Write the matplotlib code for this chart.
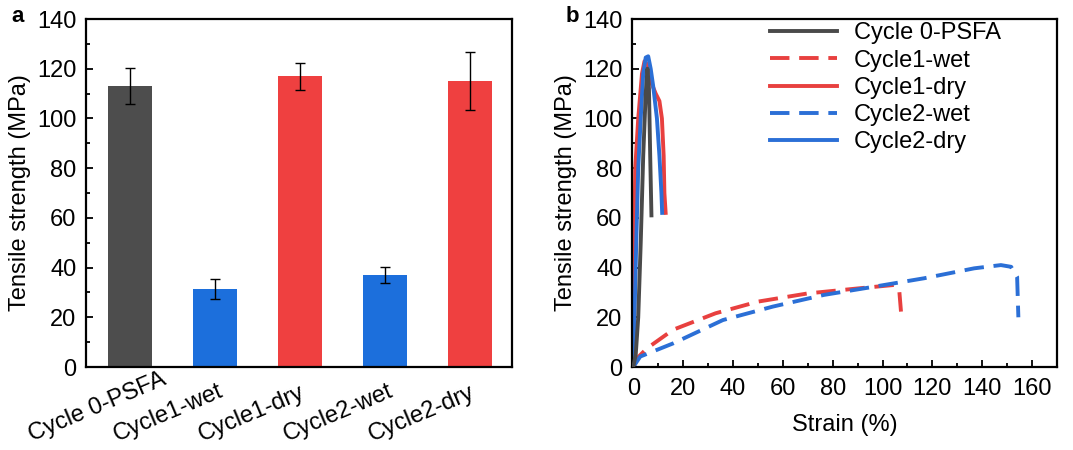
import numpy as np
import matplotlib
matplotlib.use("Agg")
import matplotlib.pyplot as plt
from matplotlib.ticker import MultipleLocator
from matplotlib.transforms import ScaledTranslation

# ---- data: panel a ----
samples = ["Cycle 0-PSFA", "Cycle1-wet", "Cycle1-dry", "Cycle2-wet", "Cycle2-dry"]
strength = [113, 31.5, 117, 37, 115]
strength_err = [7.3, 4.0, 5.5, 3.3, 11.8]

# ---- data: panel b (stress-strain curves) ----
c0_strain = [0, 1, 2, 3, 4, 5, 5.7, 6.3, 6.8, 7.3]
c0_stress = [0, 5, 20, 50, 85, 110, 120, 112, 85, 61]
c1dry_strain = [0, 0.3, 0.8, 2, 3.5, 4.5, 5.5, 7, 9, 10.5, 11.5, 12.2, 12.5, 13]
c1dry_stress = [0, 40, 80, 100, 118, 123, 122, 115, 110, 107, 100, 85, 70, 62]
c2dry_strain = [0, 0.5, 1.2, 2, 3, 4, 5, 6, 7, 8, 9.5, 10.5, 11.3, 11.6]
c2dry_stress = [0, 20, 50, 80, 100, 118, 124.5, 125, 120, 113, 100, 85, 70, 62]
c1wet_strain = [0, 2, 5.5, 16, 33, 50, 70, 90, 104.6, 106.7, 107.6]
c1wet_stress = [0, 4, 7.5, 15, 21.6, 26.3, 29.6, 31.6, 33, 31, 20]
c2wet_strain = [0, 2.8, 16, 36, 56, 76.5, 96.6, 116.7, 136.8, 147.5, 151.6, 154, 154.5]
c2wet_stress = [0, 4.2, 9.5, 18.9, 24.3, 29, 32.3, 35.7, 39.7, 41, 40.3, 36.3, 20]

GRAY, BLUE, RED = "#4d4d4d", "#1c6fdc", "#ef4040"
LGRAY, LBLUE, LRED = "#4a4a4a", "#2b6fd6", "#e8403f"

plt.rcParams.update({"font.family": ["Liberation Sans", "DejaVu Sans"],
                     "font.size": 17, "axes.linewidth": 1.6})

fig = plt.figure(figsize=(10.73, 4.5), dpi=100)

# ---- panel a ----
ax = fig.add_axes([86 / 1073, 83 / 450, 426 / 1073, 348 / 450])
x = np.arange(len(samples))
ax.bar(x, strength, width=0.52, color=[GRAY, BLUE, RED, BLUE, RED])
ax.errorbar(x, strength, yerr=strength_err, fmt="none", ecolor="black",
            elinewidth=1.0, capsize=3.6, capthick=1.0)
ax.set_xlim(-0.52, 4.5)
ax.set_ylim(0, 140)
ax.yaxis.set_major_locator(MultipleLocator(20))
ax.yaxis.set_minor_locator(MultipleLocator(10))
ax.tick_params(axis="y", which="both", direction="in", pad=7)
ax.tick_params(axis="y", which="major", length=5, width=1.3)
ax.tick_params(axis="y", which="minor", length=3, width=1.3)
ax.tick_params(axis="x", length=0, pad=6)
ax.set_xticks(x)
ax.set_xticklabels(samples, rotation=23, ha="left", va="bottom",
                   rotation_mode="anchor")
# labels sit left of their bar, rising to the right
off = ScaledTranslation(-96 / 100, -71 / 100, fig.dpi_scale_trans)
for lab in ax.get_xticklabels():
    lab.set_transform(lab.get_transform() + off)
ax.set_ylabel("Tensile strength (MPa)", labelpad=4)
fig.text(18 / 1073, 1 - 17 / 450, "a", fontsize=16, fontweight="bold",
         ha="center", va="center")

# ---- panel b ----
bx = fig.add_axes([632 / 1073, 83 / 450, 425 / 1073, 348 / 450])
lw = 2.8
dash = (0, (5, 2.5))
bx.plot(c0_strain, c0_stress, color=LGRAY, lw=lw, label="Cycle 0-PSFA", zorder=3)
bx.plot(c1wet_strain, c1wet_stress, color=LRED, lw=lw, ls=dash,
        label="Cycle1-wet")
bx.plot(c1dry_strain, c1dry_stress, color=LRED, lw=lw, label="Cycle1-dry")
bx.plot(c2wet_strain, c2wet_stress, color=LBLUE, lw=lw, ls=dash,
        label="Cycle2-wet")
bx.plot(c2dry_strain, c2dry_stress, color=LBLUE, lw=lw, label="Cycle2-dry")
bx.set_xlim(-0.5, 170)
bx.set_ylim(0, 140)
bx.xaxis.set_major_locator(MultipleLocator(20))
bx.xaxis.set_minor_locator(MultipleLocator(10))
bx.yaxis.set_major_locator(MultipleLocator(20))
bx.yaxis.set_minor_locator(MultipleLocator(10))
bx.tick_params(which="both", direction="in", width=1.3)
bx.tick_params(which="major", length=5)
bx.tick_params(which="minor", length=3)
bx.tick_params(axis="y", pad=7)
bx.tick_params(axis="x", pad=8)
bx.set_xlabel("Strain (%)", labelpad=10)
bx.set_ylabel("Tensile strength (MPa)", labelpad=4)
bx.legend(loc="upper left", bbox_to_anchor=(0.325, 0.99), frameon=False,
          borderpad=0, borderaxespad=0, handlelength=2.85, handletextpad=0.7,
          labelspacing=0.22, fontsize=17)
fig.text(572 / 1073, 1 - 17 / 450, "b", fontsize=16, fontweight="bold",
         ha="center", va="center")

fig.savefig("out.png", dpi=100)
